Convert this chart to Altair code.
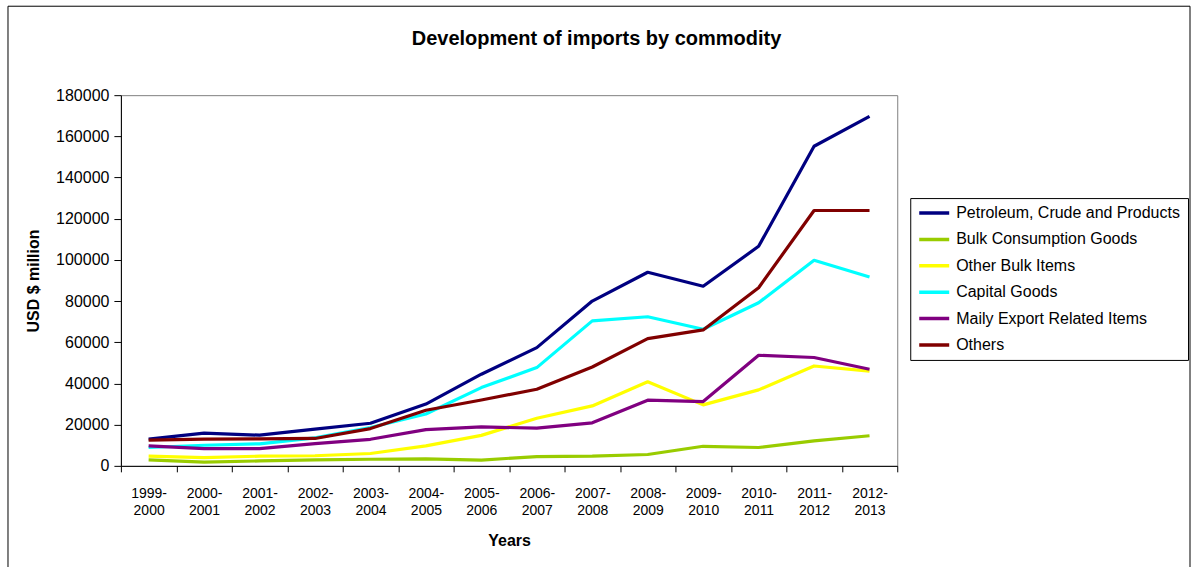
import altair as alt
import pandas as pd

periods = ["1999-2000", "2000-2001", "2001-2002", "2002-2003", "2003-2004",
           "2004-2005", "2005-2006", "2006-2007", "2007-2008", "2008-2009",
           "2009-2010", "2010-2011", "2011-2012", "2012-2013"]

series_names = ["Petroleum, Crude and Products", "Bulk Consumption Goods",
                "Other Bulk Items", "Capital Goods", "Maily Export Related Items",
                "Others"]
series_colors = ["#000080", "#99CC00", "#FFFF00", "#00FFFF", "#800080", "#800000"]

petroleum = [13000, 15900, 14900, 17800, 20700, 30000, 44500, 57400, 80000, 94000, 87200, 106600, 155200, 169700]
bulk_consumption = [2900, 1800, 2400, 2900, 3200, 3400, 2800, 4500, 4700, 5500, 9500, 8900, 12100, 14600]
other_bulk = [4700, 4000, 4700, 4900, 6000, 9700, 14800, 23100, 29100, 40800, 29600, 36900, 48500, 46000]
capital_goods = [8900, 10000, 10700, 13600, 18600, 25200, 38000, 47700, 70400, 72400, 66300, 79200, 99800, 91700]
export_related = [9700, 8400, 8400, 10800, 12900, 17600, 18900, 18300, 20900, 31900, 31200, 53700, 52600, 46900]
others = [12500, 13000, 13100, 13300, 18100, 27000, 32000, 37200, 48000, 61800, 66000, 86500, 124000, 124000]

all_series = [petroleum, bulk_consumption, other_bulk, capital_goods, export_related, others]

rows = []
for si, (name, vals) in enumerate(zip(series_names, all_series)):
    for p, v in zip(periods, vals):
        rows.append({"Years": p, "Series": name, "Value": v, "order": si})
df = pd.DataFrame(rows)

W = 777
H = 371
FONT = "Liberation Sans"

lines = alt.Chart(df).mark_line(strokeWidth=3.2, strokeJoin="round").encode(
    x=alt.X("Years:N", sort=periods, bandPosition=0.5,
            scale=alt.Scale(type="band", paddingInner=0, paddingOuter=0),
            axis=alt.Axis(title="Years", tickBand="extent", labelAngle=0,
                          labelExpr="[slice(datum.label, 0, 5), slice(datum.label, 5)]",
                          labelFontSize=14, labelLineHeight=17, labelPadding=15,
                          tickSize=6, titleFontSize=16, titleFontWeight="bold",
                          titleX=W / 2, titleY=75, titleBaseline="middle")),
    y=alt.Y("Value:Q",
            scale=alt.Scale(domain=[0, 180000], nice=False),
            axis=alt.Axis(title="USD $ million", values=list(range(0, 180001, 20000)),
                          format="d",
                          grid=False, labelFontSize=16, labelPadding=5, tickSize=7,
                          titleFontSize=16, titleFontWeight="bold",
                          titleX=-87, titleY=H / 2, titleAngle=270,
                          titleAlign="center", titleBaseline="middle")),
    color=alt.Color("Series:N",
                    scale=alt.Scale(domain=series_names, range=series_colors),
                    legend=alt.Legend(title=None, orient="none", legendX=790, legendY=103,
                                      symbolType="stroke", symbolSize=900,
                                      symbolStrokeWidth=3.5, labelFontSize=16,
                                      labelLimit=0, clipHeight=16,
                                      labelOffset=5, rowPadding=10.4, padding=7,
                                      strokeColor="black", fillColor="white")),
    order=alt.Order("order:Q"),
)

one = pd.DataFrame({"a": [0]})
frame_left = alt.Chart(one).mark_rule(color="black", strokeWidth=1).encode(
    x=alt.value(-113), y=alt.value(-89), y2=alt.value(473))
frame_right = alt.Chart(one).mark_rule(color="black", strokeWidth=1).encode(
    x=alt.value(1070), y=alt.value(-89), y2=alt.value(473))
frame_top = alt.Chart(one).mark_rule(color="black", strokeWidth=1).encode(
    x=alt.value(-113), x2=alt.value(1070), y=alt.value(-89))

title_text = alt.Chart(pd.DataFrame({"t": ["Development of imports by commodity"]})).mark_text(
    fontSize=20, fontWeight="bold", font=FONT, align="center", baseline="middle", color="black"
).encode(x=alt.value(476), y=alt.value(-56), text="t:N")

chart = alt.layer(lines, frame_left, frame_right, frame_top, title_text).properties(
    width=W, height=H, padding={"left": 7, "top": 5, "right": 1, "bottom": 0}
).configure(font=FONT).configure_view(
    stroke="#808080", strokeWidth=1
).configure_axis(
    domainColor="black", tickColor="black", labelColor="black", titleColor="black",
    labelFont=FONT, titleFont=FONT
).configure_legend(labelFont=FONT, labelColor="black")

chart.save("out.html", embed_options={"renderer": "svg", "actions": False})
